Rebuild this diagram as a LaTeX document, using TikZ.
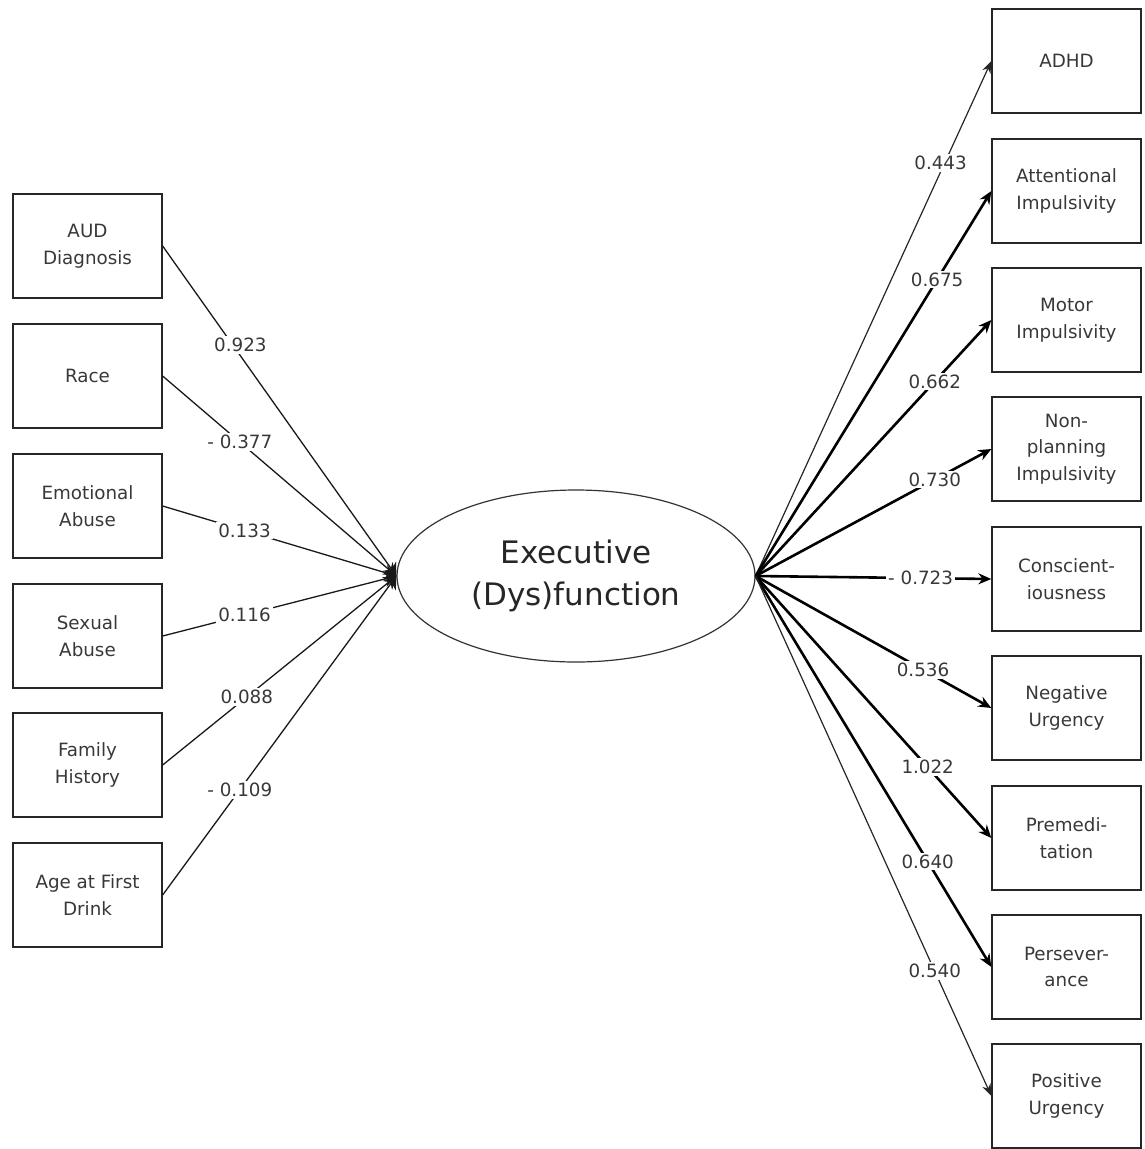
\documentclass[tikz,border=0pt]{standalone}
\usepackage{fontspec}
\setmainfont{DejaVu Sans}
\usetikzlibrary{arrows.meta,shapes.geometric}
\begin{document}
\begin{tikzpicture}[x=1pt,y=-1pt,
  box/.style={draw=black!85, line width=1.3pt, minimum width=149pt, minimum height=104pt,
    align=center, font=\fontsize{18.3}{26.5}\selectfont, text=black!78, inner sep=0pt},
  lab/.style={fill=white, inner sep=2pt, font=\fontsize{18.3}{20}\selectfont, text=black!78},
  inlink/.style={line width=1.3pt, draw=black!90, -{Stealth[length=12pt,width=16pt]}},
  lightarrow/.style={line width=1.2pt, draw=black!85, -{Stealth[length=12pt,width=9pt]}},
  heavyarrow/.style={line width=2.6pt, -{Stealth[length=13pt,width=11pt]}}]
\useasboundingbox (0,0) rectangle (1144,1149);

% central latent variable
\node[draw=black!80, line width=1.2pt, ellipse, minimum width=358pt, minimum height=172pt,
  inner sep=0pt, align=center, text=black!85, font=\fontsize{31}{42}\selectfont]
  (ef) at (576,576) {Executive\\(Dys)function};

% left boxes
\node[box] (aud) at (87.5,246) {AUD\\Diagnosis};
\node[box] (race) at (87.5,376) {Race};
\node[box] (emo) at (87.5,506) {Emotional\\Abuse};
\node[box] (sex) at (87.5,636) {Sexual\\Abuse};
\node[box] (fam) at (87.5,765) {Family\\History};
\node[box] (age) at (87.5,895) {Age at First\\Drink};

% right boxes
\node[box] (adhd) at (1066.5,61) {ADHD};
\node[box] (att) at (1066.5,191) {Attentional\\Impulsivity};
\node[box] (mot) at (1066.5,320) {Motor\\Impulsivity};
\node[box] (nonp) at (1066.5,449) {Non-\\planning\\Impulsivity};
\node[box] (cons) at (1066.5,579) {Conscient-\\iousness};
\node[box] (neg) at (1066.5,708) {Negative\\Urgency};
\node[box] (prem) at (1066.5,838) {Premedi-\\tation};
\node[box] (pers) at (1066.5,967) {Persever-\\ance};
\node[box] (pos) at (1066.5,1096) {Positive\\Urgency};

% left paths
\draw[inlink] (aud.east) -- node[lab,pos=0.29,xshift=10pt,yshift=-3pt]{0.923} (ef.west);
\draw[inlink] (race.east) -- node[lab,pos=0.33]{- 0.377} (ef.west);
\draw[inlink] (emo.east) -- node[lab,pos=0.35]{0.133} (ef.west);
\draw[inlink] (sex.east) -- node[lab,pos=0.35]{0.116} (ef.west);
\draw[inlink] (fam.east) -- node[lab,pos=0.36]{0.088} (ef.west);
\draw[inlink] (age.east) -- node[lab,pos=0.33]{- 0.109} (ef.west);

% right paths
\draw[lightarrow] (ef.east) -- node[lab,pos=0.81,xshift=-6pt,yshift=-4pt]{0.443} (adhd.west);
\draw[heavyarrow] (ef.east) -- node[lab,pos=0.77]{0.675} (att.west);
\draw[heavyarrow] (ef.east) -- node[lab,pos=0.76]{0.662} (mot.west);
\draw[heavyarrow] (ef.east) -- node[lab,pos=0.76]{0.730} (nonp.west);
\draw[heavyarrow] (ef.east) -- node[lab,pos=0.70]{- 0.723} (cons.west);
\draw[heavyarrow] (ef.east) -- node[lab,pos=0.71]{0.536} (neg.west);
\draw[heavyarrow] (ef.east) -- node[lab,pos=0.73]{1.022} (prem.west);
\draw[heavyarrow] (ef.east) -- node[lab,pos=0.73]{0.640} (pers.west);
\draw[lightarrow] (ef.east) -- node[lab,pos=0.76]{0.540} (pos.west);
\end{tikzpicture}
\end{document}
